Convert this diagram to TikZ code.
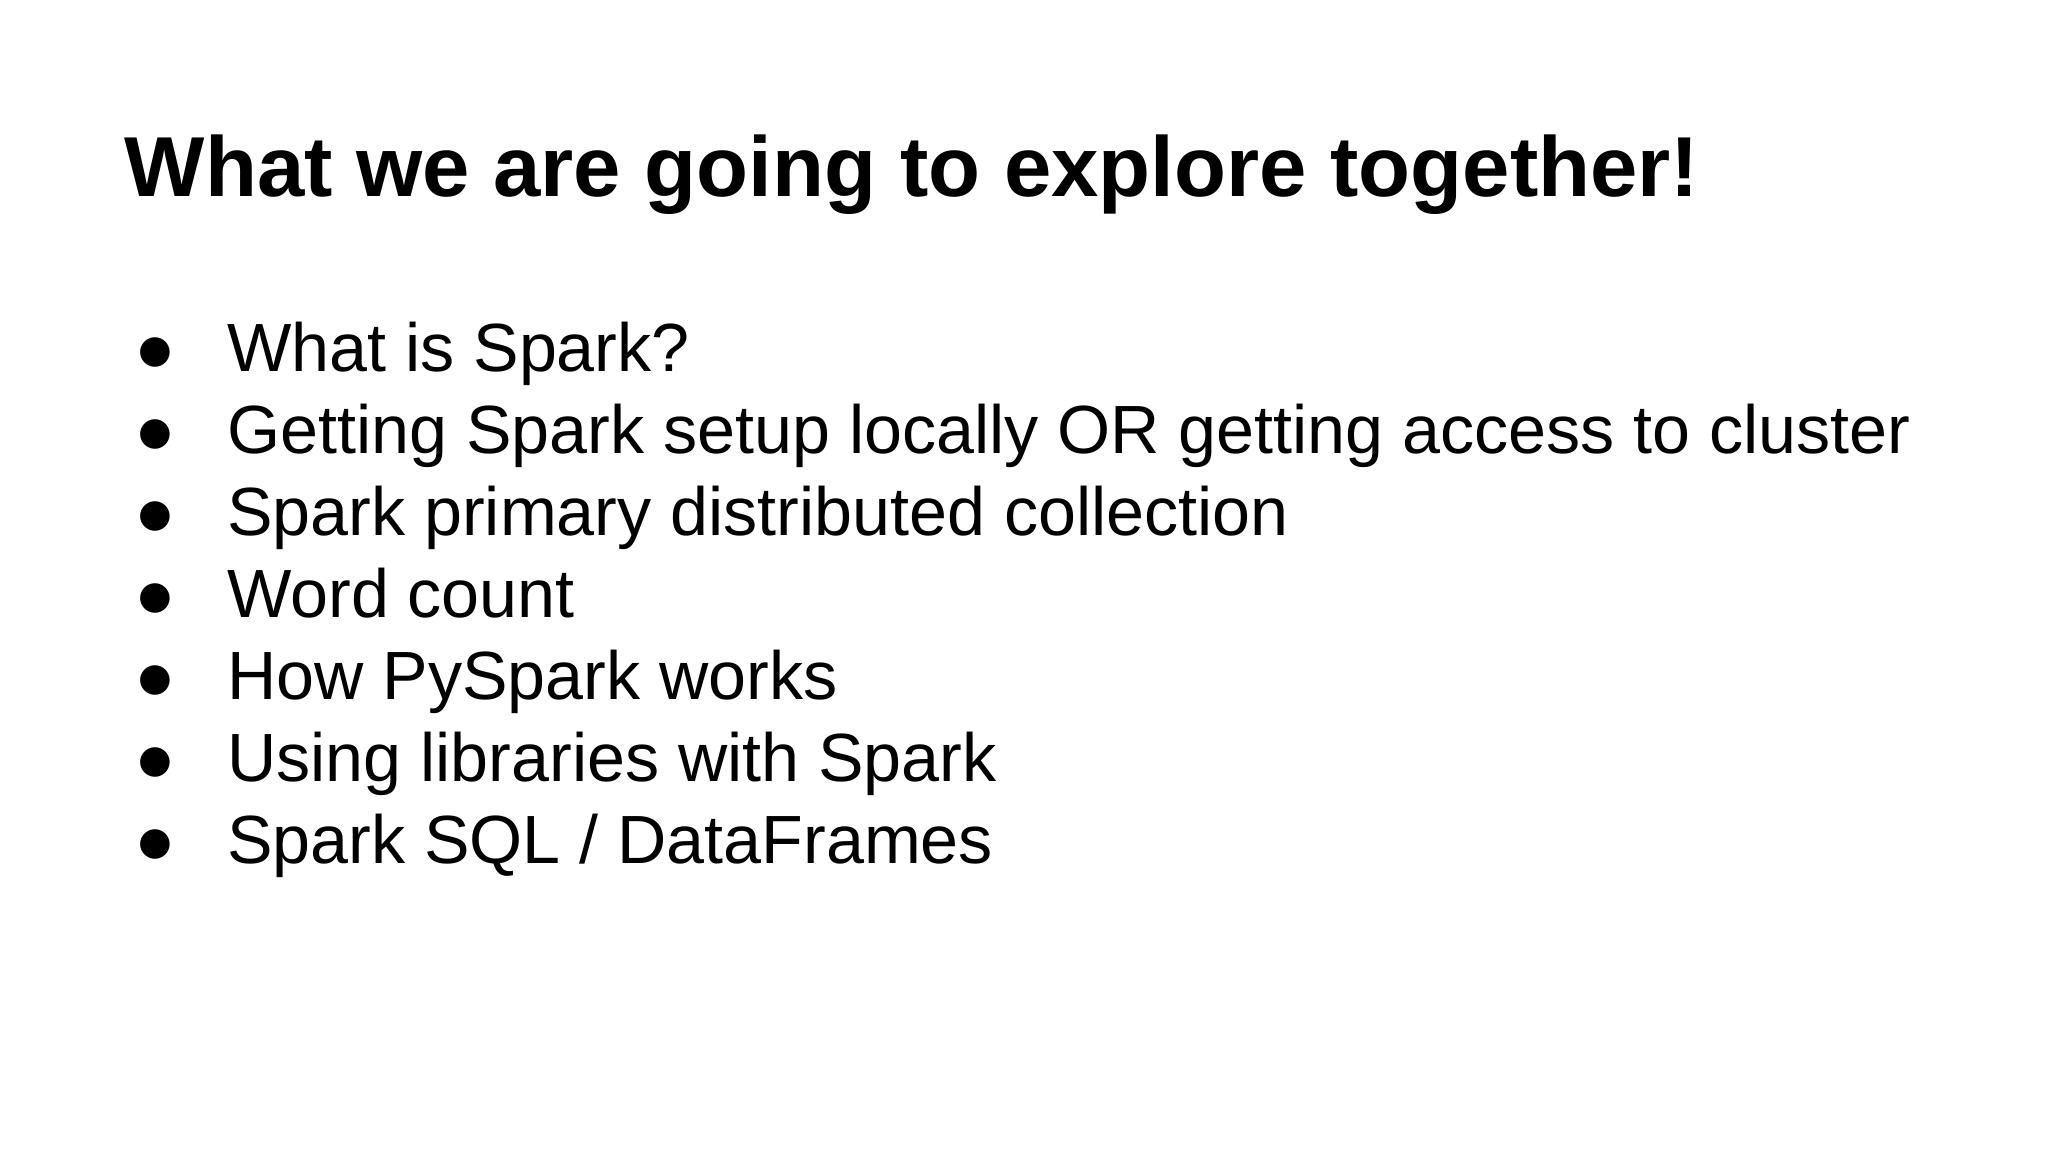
\documentclass[tikz,border=0pt]{standalone}
\usepackage{fontspec}
\setmainfont{Liberation Sans}
\newfontfamily\symfont{DejaVu Sans}
\begin{document}
\begin{tikzpicture}[x=0.01cm,y=0.01cm,
  item/.style={anchor=base west,inner sep=0pt,font=\fontsize{19.4}{23}\selectfont},
  bul/.style={anchor=center,inner sep=0pt,font=\symfont\fontsize{11}{13}\selectfont}]
\useasboundingbox (0,0) rectangle (2048,1152);
\node[anchor=base west,inner sep=0pt,font=\bfseries\fontsize{24.2}{29}\selectfont] (title) at (124,955) {What we are going to explore together!};
\foreach \t [count=\i] in {What is Spark?,Getting Spark setup locally OR getting access to cluster,Spark primary distributed collection,Word count,How PySpark works,Using libraries with Spark,Spark SQL / DataFrames}{
  \pgfmathsetmacro\yy{1152-372-(\i-1)*81.9}
  \node[bul] (b\i) at (155,\yy+19) {●};
  \node[item] (t\i) at (226.5,\yy) {\t};
}
\end{tikzpicture}
\end{document}
